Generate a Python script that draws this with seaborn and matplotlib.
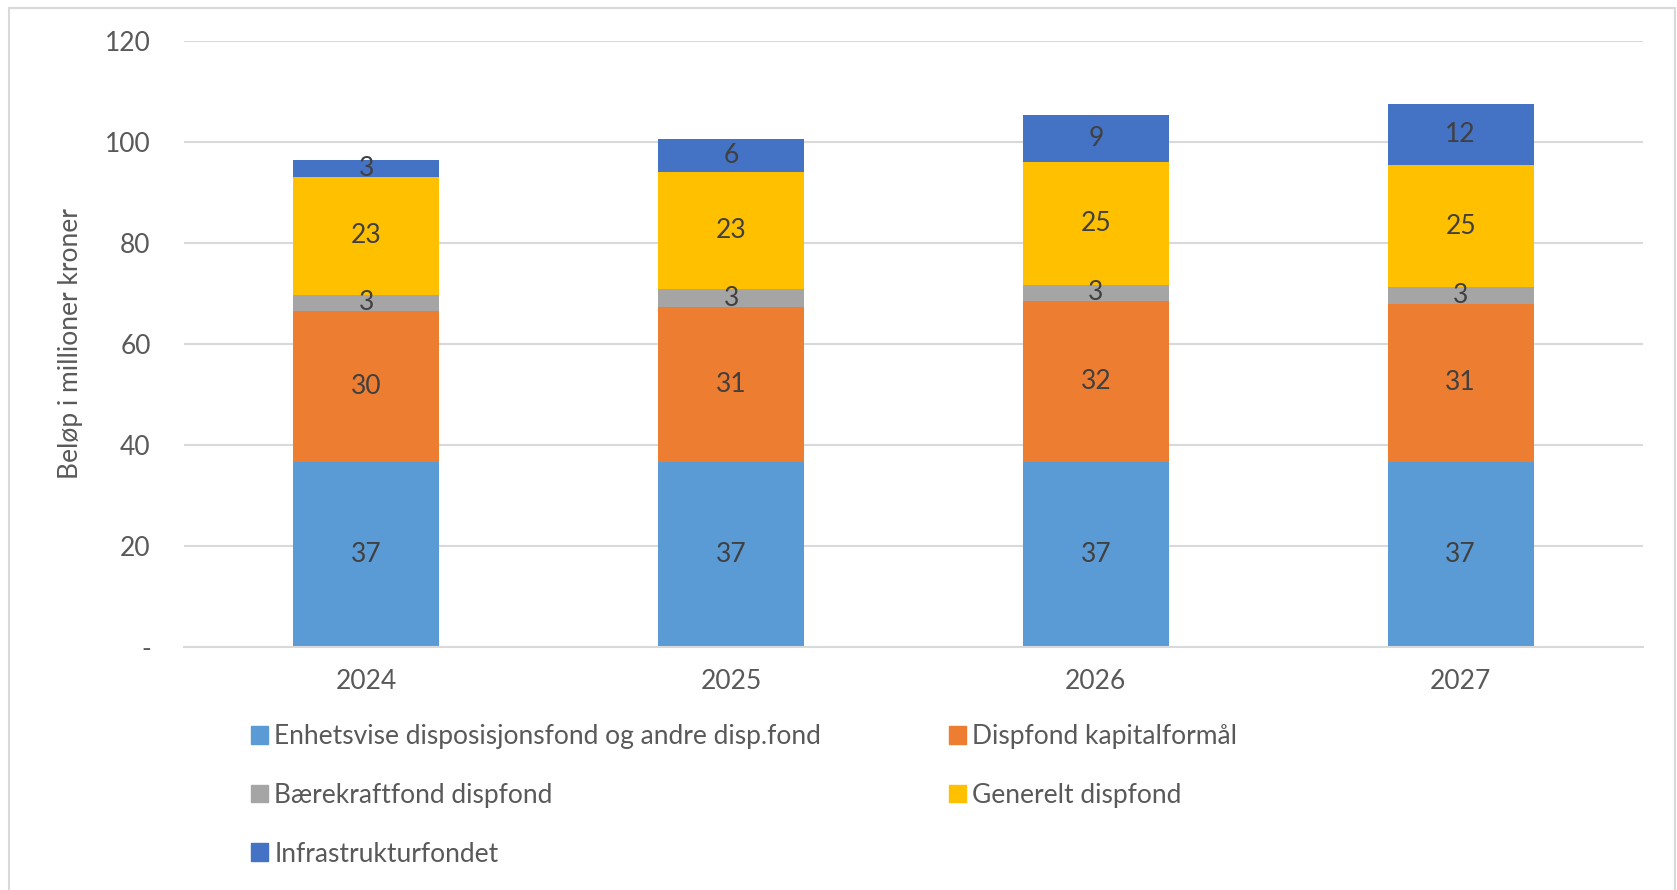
import numpy as np
import pandas as pd
import matplotlib
matplotlib.use("Agg")
import matplotlib.pyplot as plt
import matplotlib.patches as mpatches
import seaborn as sns

####################################################
years = ["2024", "2025", "2026", "2027"]

series_names = [
    "Enhetsvise disposisjonsfond og andre disp.fond",
    "Dispfond kapitalformål",
    "Bærekraftfond dispfond",
    "Generelt dispfond",
    "Infrastrukturfondet",
]
series_colors = ["#5B9BD5", "#ED7D31", "#A5A5A5", "#FFC000", "#4472C4"]

# values (millioner kroner)
enhetsvise = [36.7, 36.7, 36.7, 36.7]
kapital = [29.8, 30.7, 31.8, 31.3]
baerekraft = [3.3, 3.4, 3.2, 3.2]
generelt = [23.3, 23.3, 24.3, 24.2]
infrastruktur = [3.3, 6.4, 9.3, 12.2]

# data labels as printed in the chart
enhetsvise_lbl = ["37", "37", "37", "37"]
kapital_lbl = ["30", "31", "32", "31"]
baerekraft_lbl = ["3", "3", "3", "3"]
generelt_lbl = ["23", "23", "25", "25"]
infrastruktur_lbl = ["3", "6", "9", "12"]

y_ticks = [0, 20, 40, 60, 80, 100, 120]
y_tick_labels = ["-", "20", "40", "60", "80", "100", "120"]


def plot_stack():
    sns.set_theme(style="white")
    plt.rcParams["font.family"] = ["Lato", "DejaVu Sans"]
    text_col = "#595959"
    grid_col = "#D9D9D9"
    fs = 19

    fig = plt.figure(figsize=(16.77, 8.90), dpi=100)
    ax = fig.add_axes([184 / 1677, 1 - 647 / 890, 1459 / 1677, 606 / 890])

    values = [enhetsvise, kapital, baerekraft, generelt, infrastruktur]
    labels = [enhetsvise_lbl, kapital_lbl, baerekraft_lbl, generelt_lbl, infrastruktur_lbl]
    bottom = np.zeros(len(years))
    for name, col, vals, lbls in zip(series_names, series_colors, values, labels):
        df = pd.DataFrame({"year": years, "value": vals})
        sns.barplot(data=df, x="year", y="value", color=col, width=0.4,
                    bottom=bottom.copy(), linewidth=0, label=name, ax=ax,
                    saturation=1, legend=False)
        ax.bar_label(ax.containers[-1], labels=lbls, label_type="center",
                     fontsize=fs, color="#404040")
        bottom = bottom + np.array(vals)

    ax.set_ylim(0, 120)
    ax.set_yticks(y_ticks)
    ax.set_yticklabels(y_tick_labels)
    ax.yaxis.grid(True, color=grid_col, linewidth=1.5)
    ax.set_axisbelow(True)
    for s in ["top", "right", "left"]:
        ax.spines[s].set_visible(False)
    ax.spines["bottom"].set_color(grid_col)
    ax.spines["bottom"].set_linewidth(1.5)
    ax.tick_params(axis="y", length=0, pad=24, labelsize=fs, labelcolor=text_col)
    ax.tick_params(axis="x", length=0, pad=16, labelsize=fs, labelcolor=text_col)
    ax.set_xlabel("")
    ax.set_ylabel("Beløp i millioner kroner", fontsize=fs, color=text_col)
    ax.yaxis.set_label_coords(-0.069, 0.5)

    # legend, row-wise order like the original
    handles = [mpatches.Patch(color=c) for c in series_colors]
    order = [0, 2, 4, 1, 3]
    fig.legend([handles[i] for i in order], [series_names[i] for i in order],
               ncol=2, loc="upper left", bbox_to_anchor=(251 / 1677, 1 - 724 / 890),
               frameon=False, fontsize=fs, labelcolor=text_col, borderpad=0,
               borderaxespad=0, handlelength=0.65, handleheight=0.65,
               handletextpad=0.24, labelspacing=1.28, columnspacing=4.82)

    # light chart border
    fig.patches.append(mpatches.Rectangle((9 / 1677, -0.05), 1666 / 1677, 1.05 - 8 / 890,
                                          transform=fig.transFigure, fill=False,
                                          edgecolor=grid_col, linewidth=1.5))

    plt.savefig("out.png", dpi=100)


if __name__ == "__main__":
    plot_stack()
